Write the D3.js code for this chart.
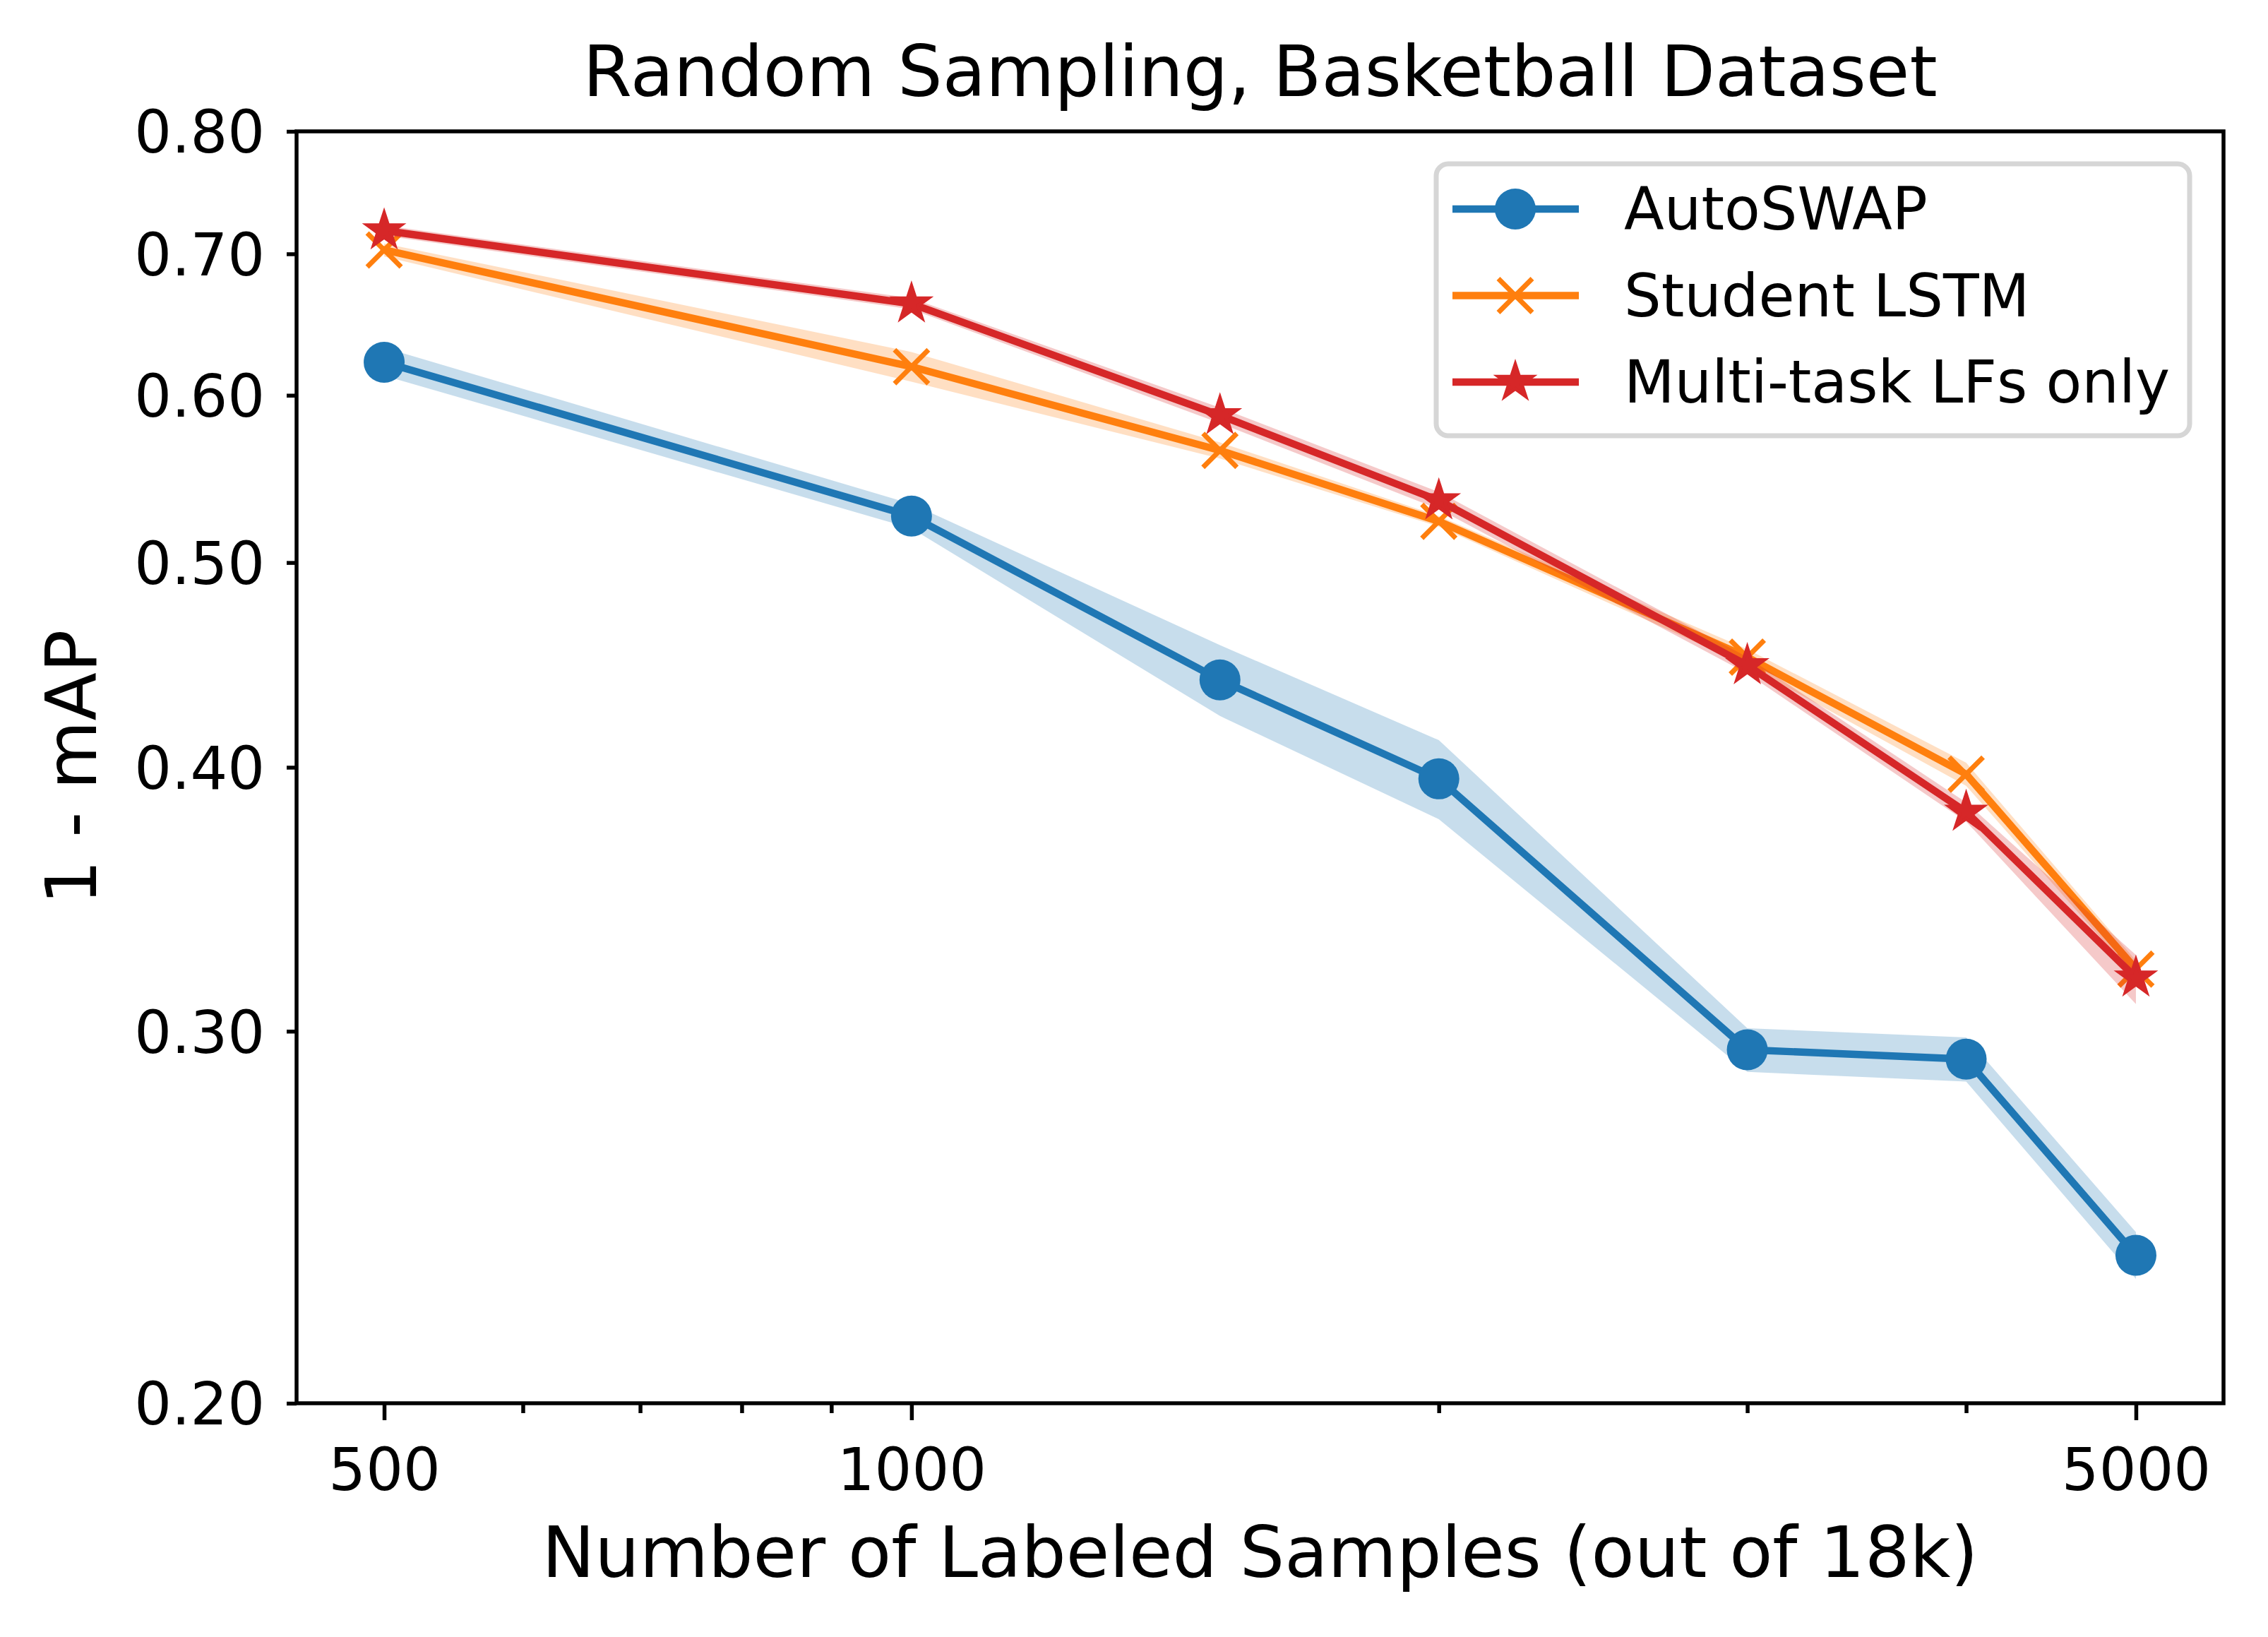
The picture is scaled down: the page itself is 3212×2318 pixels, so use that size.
<!DOCTYPE html>
<html>
<head>
<meta charset="utf-8">
<script src="https://cdn.jsdelivr.net/npm/d3@7"></script>
<style>
  body { margin: 0; background: #fff; }
  svg { display: block; font-family: "DejaVu Sans", sans-serif; }
</style>
</head>
<body>
<svg></svg>
<script>
const width = 3212;
const height = 2318;
const margin = { left: 420, right: 63, top: 186, bottom: 331 };

// data
const samples = [500, 1000, 1500, 2000, 3000, 4000, 5000];

const autoswapMean = [0.622, 0.526, 0.440, 0.395, 0.294, 0.291, 0.235];
const autoswapLow = [0.613, 0.519, 0.423, 0.378, 0.287, 0.284, 0.229];
const autoswapHigh = [0.632, 0.533, 0.457, 0.412, 0.301, 0.298, 0.241];

const studentMean = [0.703, 0.619, 0.565, 0.523, 0.451, 0.397, 0.321];
const studentLow = [0.698, 0.609, 0.560, 0.520, 0.447, 0.392, 0.318];
const studentHigh = [0.708, 0.629, 0.570, 0.526, 0.455, 0.402, 0.324];

const multiMean = [0.718, 0.663, 0.587, 0.535, 0.447, 0.381, 0.318];
const multiLow = [0.714, 0.659, 0.582, 0.530, 0.443, 0.377, 0.309];
const multiHigh = [0.722, 0.667, 0.592, 0.540, 0.451, 0.385, 0.326];

const seriesNames = ["AutoSWAP", "Student LSTM", "Multi-task LFs only"];
const seriesColors = ["#1f77b4", "#ff7f0e", "#d62728"];
const seriesMarkers = ["circle", "x", "star"];

const xMajorTicks = [500, 1000, 5000];
const xMinorTicks = [600, 700, 800, 900, 2000, 3000, 4000];
const yTicks = [0.2, 0.3, 0.4, 0.5, 0.6, 0.7, 0.8];

const titleText = "Random Sampling, Basketball Dataset";
const xLabel = "Number of Labeled Samples (out of 18k)";
const yLabel = "1 - mAP";

const series = seriesNames.map((name, i) => ({
  name,
  color: seriesColors[i],
  marker: seriesMarkers[i],
  mean: [autoswapMean, studentMean, multiMean][i],
  low: [autoswapLow, studentLow, multiLow][i],
  high: [autoswapHigh, studentHigh, multiHigh][i]
}));

const svg = d3.select("svg").attr("width", width).attr("height", height);

// matplotlib-style 5% margin in log space
const lx = d3.extent(samples).map(Math.log10);
const pad = (lx[1] - lx[0]) * 0.05;
const x = d3.scaleLog()
  .domain([Math.pow(10, lx[0] - pad), Math.pow(10, lx[1] + pad)])
  .range([margin.left, width - margin.right]);
const y = d3.scaleLog()
  .domain([d3.min(yTicks), d3.max(yTicks)])
  .range([height - margin.bottom, margin.top]);

const fontSize = 83;

// axes
const xAxis = svg.append("g")
  .attr("transform", `translate(0,${height - margin.bottom})`)
  .call(d3.axisBottom(x).tickValues(xMajorTicks).tickFormat(d3.format("d")).tickSize(24).tickPadding(40));
svg.append("g")
  .attr("transform", `translate(0,${height - margin.bottom})`)
  .call(d3.axisBottom(x).tickValues(xMinorTicks).tickFormat("").tickSize(14));
const yAxis = svg.append("g")
  .attr("transform", `translate(${margin.left},0)`)
  .call(d3.axisLeft(y).tickValues(yTicks).tickFormat(d3.format(".2f")).tickSize(14).tickPadding(31));

svg.selectAll(".domain").remove();
svg.selectAll(".tick line").attr("stroke", "#000").attr("stroke-width", 5.5);
svg.selectAll(".tick text")
  .attr("fill", "#000")
  .style("font-size", `${fontSize}px`)
  .style("font-family", "DejaVu Sans");
yAxis.selectAll(".tick text").attr("dy", "0.36em");

// bands, lines, markers
const area = d3.area()
  .x((d, i) => x(samples[i]))
  .y0(d => y(d[0]))
  .y1(d => y(d[1]));
const line = d3.line()
  .x((d, i) => x(samples[i]))
  .y(d => y(d));

function drawMarker(g, type, color) {
  if (type === "circle") {
    g.append("circle").attr("r", 29).attr("fill", color);
  } else if (type === "x") {
    const s = 24;
    g.append("path")
      .attr("d", `M${-s},${-s}L${s},${s}M${-s},${s}L${s},${-s}`)
      .attr("stroke", color).attr("stroke-width", 7).attr("fill", "none");
  } else {
    g.append("path")
      .attr("d", d3.symbol(d3.symbolStar, 700)())
      .attr("fill", color).attr("stroke", color).attr("stroke-width", 5)
      .attr("stroke-linejoin", "miter");
  }
}

series.forEach(s => {
  const band = s.low.map((v, i) => [v, s.high[i]]);
  svg.append("path")
    .datum(band)
    .attr("d", area)
    .attr("fill", s.color)
    .attr("fill-opacity", 0.25);
  svg.append("path")
    .datum(s.mean)
    .attr("d", line)
    .attr("fill", "none")
    .attr("stroke", s.color)
    .attr("stroke-width", 10.4)
    .attr("stroke-linejoin", "round")
    .attr("stroke-linecap", "square");
  s.mean.forEach((v, i) => {
    const g = svg.append("g").attr("transform", `translate(${x(samples[i])},${y(v)})`);
    drawMarker(g, s.marker, s.color);
  });
});

// frame
svg.append("rect")
  .attr("x", margin.left)
  .attr("y", margin.top)
  .attr("width", width - margin.left - margin.right)
  .attr("height", height - margin.top - margin.bottom)
  .attr("fill", "none")
  .attr("stroke", "#000")
  .attr("stroke-width", 5.5);

// title and labels
svg.append("text")
  .attr("x", (margin.left + width - margin.right) / 2)
  .attr("y", 136)
  .attr("text-anchor", "middle")
  .style("font-size", "100px")
  .text(titleText);

svg.append("text")
  .attr("x", (margin.left + width - margin.right) / 2)
  .attr("y", 2233)
  .attr("text-anchor", "middle")
  .style("font-size", "100px")
  .text(xLabel);

svg.append("text")
  .attr("transform", `translate(136,${(margin.top + height - margin.bottom) / 2}) rotate(-90)`)
  .attr("text-anchor", "middle")
  .style("font-size", "100px")
  .text(yLabel);

// legend
const legend = svg.append("g").attr("transform", "translate(2034,232)");
legend.append("rect")
  .attr("width", 1067)
  .attr("height", 385)
  .attr("rx", 17)
  .attr("fill", "#fff")
  .attr("fill-opacity", 0.8)
  .attr("stroke", "#d6d6d6")
  .attr("stroke-width", 7);

series.forEach((s, i) => {
  const row = legend.append("g").attr("transform", `translate(0,${64 + i * 122.5})`);
  row.append("line")
    .attr("x1", 23).attr("x2", 202)
    .attr("stroke", s.color).attr("stroke-width", 10.4);
  const m = row.append("g").attr("transform", "translate(112,0)");
  drawMarker(m, s.marker, s.color);
  row.append("text")
    .attr("x", 266)
    .attr("y", 29)
    .style("font-size", `${fontSize}px`)
    .text(s.name);
});
</script>
</body>
</html>
